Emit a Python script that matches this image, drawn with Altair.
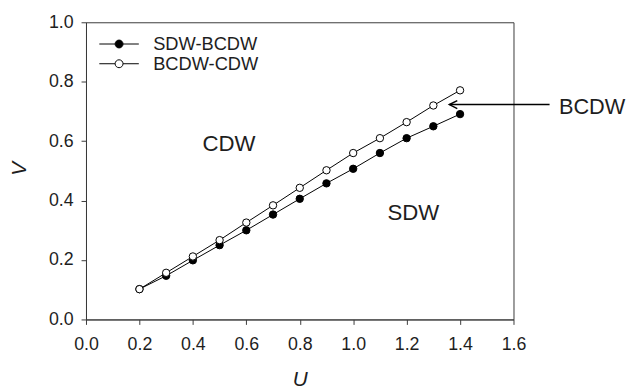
import altair as alt
import pandas as pd

# ---- data ----
U = [0.2, 0.3, 0.4, 0.5, 0.6, 0.7, 0.8, 0.9, 1.0, 1.1, 1.2, 1.3, 1.4]
sdw_bcdw = [0.102, 0.147, 0.199, 0.250, 0.300, 0.353, 0.406, 0.458, 0.507, 0.560, 0.610, 0.650, 0.691]
bcdw_cdw = [0.102, 0.157, 0.212, 0.267, 0.326, 0.384, 0.443, 0.502, 0.560, 0.610, 0.664, 0.720, 0.771]
series_names = ["SDW-BCDW", "BCDW-CDW"]

x_ticks = [0.0, 0.2, 0.4, 0.6, 0.8, 1.0, 1.2, 1.4, 1.6]
y_ticks = [0.0, 0.2, 0.4, 0.6, 0.8, 1.0]

region_labels = ["CDW", "SDW"]
region_u = [0.535, 1.225]
region_v = [0.591, 0.357]

arrow_label = "BCDW"
arrow_label_u = 1.770
arrow_label_v = 0.716
arrow_tip_u = 1.360
arrow_tail_u = 1.735
arrow_v = 0.723

FONT = "Liberation Sans"
TXT = "#1e1e1e"
AX = "#3a3a3a"

df = pd.DataFrame({
    "U": U * 2,
    "V": sdw_bcdw + bcdw_cdw,
    "series": [series_names[0]] * len(U) + [series_names[1]] * len(U),
})

xscale = alt.Scale(domain=[0, 1.6], nice=False, zero=False)
yscale = alt.Scale(domain=[0, 1.0], nice=False, zero=False)

xenc = alt.X("U:Q", scale=xscale, axis=alt.Axis(
    values=x_ticks, format=".1f", title="U", titleFontStyle="italic",
    titleFontWeight="normal", titleFontSize=21, titleFont=FONT, titleColor=TXT,
    titleBaseline="alphabetic", titleY=67, titleX=216.5, titleAlign="center",
    labelFontSize=18, labelFont=FONT, labelColor=TXT, labelPadding=11,
    tickSize=5, tickColor=AX, domainColor=AX, grid=False, labelFlush=False))
yenc = alt.Y("V:Q", scale=yscale, axis=alt.Axis(
    values=y_ticks, format=".1f", title="V", titleFontStyle="italic",
    titleFontWeight="normal", titleFontSize=21, titleFont=FONT, titleColor=TXT,
    titleAngle=270, titleBaseline="alphabetic", titleX=-61, titleY=148, titleAlign="center",
    labelFontSize=18, labelFont=FONT, labelColor=TXT, labelPadding=8,
    tickSize=5, tickColor=AX, domainColor=AX, grid=False, labelFlush=False))

legend_symbol = "M-1,0H-0.2M0.2,0H1M0.2,0A0.2,0.2,0,1,1,-0.2,0A0.2,0.2,0,1,1,0.2,0Z"

lines = alt.Chart(df).mark_line(color="black", strokeWidth=1).encode(
    x=xenc, y=yenc, detail="series:N")

points = alt.Chart(df).mark_circle(stroke="black", strokeWidth=1, opacity=1, size=56).encode(
    x=alt.X("U:Q", scale=xscale),
    y=alt.Y("V:Q", scale=yscale),
    fill=alt.Fill("series:N",
                  scale=alt.Scale(domain=series_names, range=["black", "white"]),
                  sort=series_names,
                  legend=alt.Legend(
                      title=None, orient="none", legendX=13, legendY=12,
                      symbolType=legend_symbol, symbolSize=1600,
                      symbolStrokeColor="black", symbolStrokeWidth=1, symbolOpacity=1,
                      labelFontSize=18.5, labelFont=FONT, labelColor=TXT,
                      labelOffset=14, clipHeight=20, rowPadding=0, padding=0)),
    order=alt.Order("order:Q"),
).transform_calculate(order="datum.series == 'SDW-BCDW' ? 0 : 1")

reg_df = pd.DataFrame({"U": region_u, "V": region_v, "t": region_labels})
regions = alt.Chart(reg_df).mark_text(
    font=FONT, fontSize=22.5, color=TXT, align="center", baseline="middle").encode(
    x=alt.X("U:Q", scale=xscale), y=alt.Y("V:Q", scale=yscale), text="t:N")

lab_df = pd.DataFrame({"U": [arrow_label_u], "V": [arrow_label_v], "t": [arrow_label]})
arrow_text = alt.Chart(lab_df).mark_text(
    font=FONT, fontSize=22, color=TXT, align="left", baseline="middle").encode(
    x=alt.X("U:Q", scale=xscale), y=alt.Y("V:Q", scale=yscale), text="t:N")

arr_df = pd.DataFrame({"U": [arrow_tip_u], "U2": [arrow_tail_u], "V": [arrow_v]})
arrow_line = alt.Chart(arr_df).mark_rule(color="black", strokeWidth=1.5).encode(
    x=alt.X("U:Q", scale=xscale), x2="U2:Q", y=alt.Y("V:Q", scale=yscale))
arrow_head = alt.Chart(arr_df).mark_point(
    shape="M1,-1L-1,0L1,1", size=64, stroke="black", strokeWidth=1.5,
    filled=False, opacity=1).encode(
    x=alt.X("head:Q", scale=xscale), y=alt.Y("V:Q", scale=yscale)
).transform_calculate(head="datum.U + 0.0148")

chart = alt.layer(lines, points, regions, arrow_text, arrow_line, arrow_head).properties(
    width=433, height=301,
    autosize=alt.AutoSizeParams(type="none"),
    padding={"left": 79, "top": 12, "right": 118, "bottom": 70},
    background="white",
).configure_view(stroke=AX, strokeWidth=1)

chart.save("out.html", embed_options={"renderer": "svg", "actions": False})
